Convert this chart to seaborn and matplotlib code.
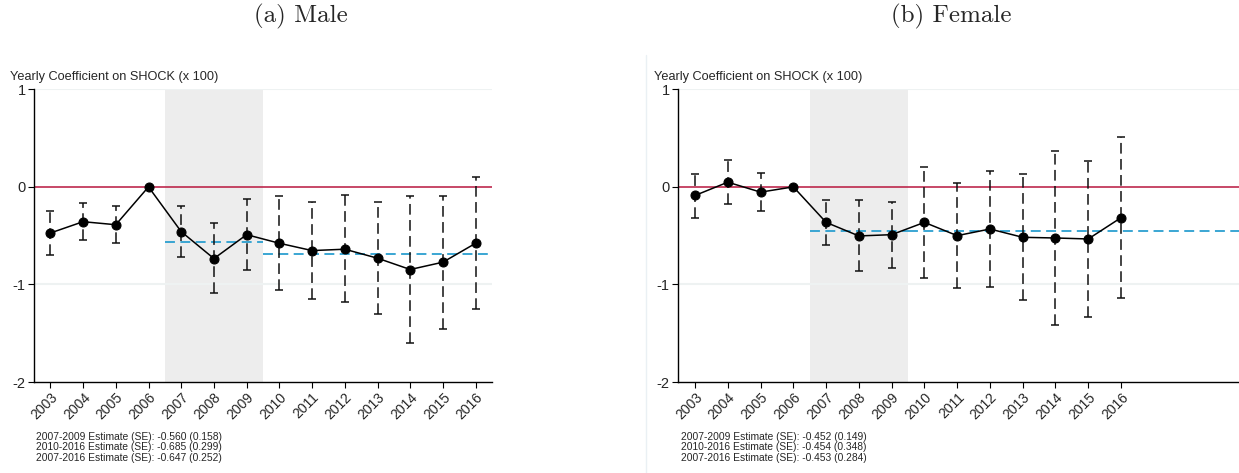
import numpy as np
import pandas as pd
import matplotlib
matplotlib.use("Agg")
import matplotlib.pyplot as plt
import seaborn as sns
from matplotlib.lines import Line2D

years = list(range(2003, 2017))

male_coef = [-0.473, -0.357, -0.388, 0.0, -0.459, -0.735, -0.490, -0.578, -0.653, -0.639, -0.731, -0.847, -0.772, -0.578]
male_hi = [-0.248, -0.170, -0.200, np.nan, -0.194, -0.374, -0.129, -0.092, -0.150, -0.088, -0.160, -0.092, -0.092, 0.105]
male_lo = [-0.700, -0.544, -0.571, np.nan, -0.721, -1.088, -0.854, -1.058, -1.153, -1.184, -1.304, -1.600, -1.457, -1.250]

female_coef = [-0.088, 0.048, -0.054, 0.0, -0.364, -0.503, -0.490, -0.364, -0.500, -0.432, -0.517, -0.524, -0.534, -0.316]
female_hi = [0.133, 0.279, 0.146, np.nan, -0.133, -0.139, -0.153, 0.204, 0.037, 0.167, 0.133, 0.371, 0.265, 0.514]
female_lo = [-0.316, -0.173, -0.248, np.nan, -0.595, -0.867, -0.833, -0.935, -1.034, -1.024, -1.160, -1.413, -1.331, -1.139]

male_est = {"2007-2009": (-0.560, 0.158), "2010-2016": (-0.685, 0.299), "2007-2016": (-0.647, 0.252)}
female_est = {"2007-2009": (-0.452, 0.149), "2010-2016": (-0.454, 0.348), "2007-2016": (-0.453, 0.284)}

titles = ["(a) Male", "(b) Female"]
ylabel = "Yearly Coefficient on SHOCK (x 100)"
yticks = [1, 0, -1, -2]

sns.set_theme(style="white")
plt.rcParams["font.family"] = ["Liberation Sans", "DejaVu Sans"]

fig = plt.figure(figsize=(12.39, 4.73), dpi=100)
W, H = 1239, 473

def px_ax(l, r, t, b):
    return [l / W, 1 - b / H, (r - l) / W, (b - t) / H]

ax1 = fig.add_axes(px_ax(34, 492, 89.3, 382))
ax2 = fig.add_axes(px_ax(678, 1239, 89.3, 382))

panels = [
    (ax1, male_coef, male_hi, male_lo, male_est, (2002.5, 2016.5)),
    (ax2, female_coef, female_hi, female_lo, female_est, (2002.48, 2019.6)),
]

grid_c = "#eef2f2"
red_c = "#b8163e"
blue_c = "#2b9fd0"

for ax, coef, hi, lo, est, xl in panels:
    ax.set_xlim(*xl)
    ax.set_ylim(-2, 1)
    ax.axvspan(2006.5, 2009.5, color="#ededed", lw=0, zorder=0)
    for g in [1, -1]:
        ax.axhline(g, color=grid_c, lw=1.5, zorder=0.5)
    ax.axhline(0, color=red_c, lw=1.1, zorder=1)

    # estimate lines
    e1 = est["2007-2009"][0]
    e2 = est["2010-2016"][0]
    ax.plot([2006.5, 2009.5], [e1, e1], color=blue_c, lw=1.3, ls=(0, (5.5, 3)), zorder=2)
    ax.plot([2009.5, xl[1]], [e2, e2], color=blue_c, lw=1.3, ls=(0, (5.5, 3)), zorder=2)

    df = pd.DataFrame({"year": years, "coef": coef, "hi": hi, "lo": lo})
    mid = (df["hi"] + df["lo"]) / 2
    eb = ax.errorbar(df["year"], mid, yerr=(df["hi"] - df["lo"]) / 2, fmt="none",
                     ecolor="#111111", elinewidth=1.1, capsize=2.8, capthick=1.1, zorder=3)
    eb[2][0].set_linestyle((0, (7, 3.5)))

    sns.lineplot(data=df, x="year", y="coef", ax=ax, color="black", lw=1.1,
                 marker="o", markersize=6.5, markeredgecolor="black", zorder=4)

    ax.set_xticks(years)
    ax.set_xticklabels([str(y) for y in years], rotation=45, ha="right",
                       rotation_mode="anchor", fontsize=10)
    ax.set_yticks(yticks)
    ax.set_yticklabels([str(t) for t in yticks], fontsize=10.5)
    ax.tick_params(axis="both", direction="out", length=4, width=0.8, color="black",
                   bottom=True, left=True, pad=2)
    ax.set_xlabel("")
    ax.set_ylabel("")
    for s in ["top", "right"]:
        ax.spines[s].set_visible(False)
    for s in ["left", "bottom"]:
        ax.spines[s].set_color("black")
        ax.spines[s].set_linewidth(1.0)
    ax.patch.set_alpha(0)

# y-axis titles
fig.text(10 / W, 1 - 77 / H, ylabel, fontsize=9.2, va="center", ha="left")
fig.text(654 / W, 1 - 77 / H, ylabel, fontsize=9.2, va="center", ha="left")

# panel titles
fig.text(301 / W, 1 - 16 / H, titles[0], fontsize=18, ha="center", va="center", family="cmr10")
fig.text(951 / W, 1 - 16 / H, titles[1], fontsize=18, ha="center", va="center", family="cmr10")

# estimates text
def est_text(est):
    return "\n".join(f"{k} Estimate (SE): {v[0]:.3f} ({v[1]:.3f})" for k, v in est.items())

fig.text(36 / W, 1 - 447.5 / H, est_text(male_est), fontsize=7.4, ha="left", va="center", linespacing=1.05)
fig.text(681 / W, 1 - 447.5 / H, est_text(female_est), fontsize=7.4, ha="left", va="center", linespacing=1.05)

# faint subfigure border
fig.add_artist(Line2D([646 / W, 646 / W], [0, 1 - 55 / H], color="#eaf0f4", lw=1))

fig.savefig("out.png", dpi=100)
